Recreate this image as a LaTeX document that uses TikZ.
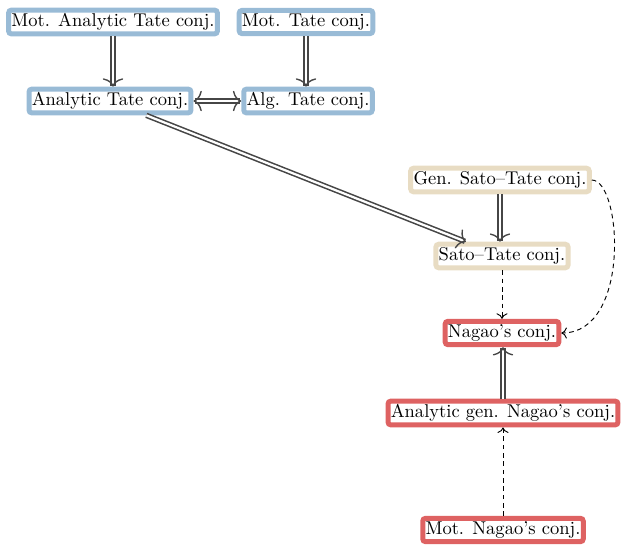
\documentclass[tikz,border=0pt]{standalone}
\usetikzlibrary{arrows.meta,decorations.markings}
\definecolor{cblue}{RGB}{153,187,214}
\definecolor{ctan}{RGB}{232,220,195}
\definecolor{cred}{RGB}{222,98,98}
\definecolor{cline}{RGB}{70,70,70}
\tikzset{
  box/.style={draw=#1, line width=2.7pt, fill=white, rounded corners=1.5pt, inner xsep=1.5pt, inner ysep=1.8pt, text=black},
  tipd/.tip={To[length=4.5pt,width=11pt,line width=0.75pt]},
  dblline/.style={draw=cline, double=white, double distance=1.2pt, line width=0.85pt},
  dbl/.style={dblline, shorten >=0.6pt, postaction={decorate, decoration={markings, mark=at position 1 with {\arrow[cline]{tipd}}}}},
  dbltwo/.style={dblline, shorten >=0.6pt, shorten <=0.6pt, postaction={decorate, decoration={markings, mark=at position 0 with {\arrowreversed[cline]{tipd}}, mark=at position 1 with {\arrow[cline]{tipd}}}}},
  dsh/.style={draw=black, line width=0.5pt, dash pattern=on 2.5pt off 2pt, -{To[length=3pt,width=6pt]}},
}
\begin{document}
\begin{tikzpicture}[x=0.54pt, y=-0.54pt]
\useasboundingbox (0,0) rectangle (624,545);
\node[box=cblue] (mat) at (113,22) {Mot. Analytic Tate conj.};
\node[box=cblue] (mt) at (306,22) {Mot. Tate conj.};
\node[box=cblue] (at) at (110,101) {Analytic Tate conj.};
\node[box=cblue] (alg) at (308,101) {Alg. Tate conj.};
\node[box=ctan] (gst) at (500,180) {Gen. Sato--Tate conj.};
\node[box=ctan] (st) at (502,256) {Sato--Tate conj.};
\node[box=cred] (ng) at (502,333) {Nagao's conj.};
\node[box=cred] (agn) at (503,413) {Analytic gen. Nagao's conj.};
\node[box=cred] (mn) at (503,530) {Mot. Nagao's conj.};
\draw[dbl] (mat) -- (mat |- at.north);
\draw[dbl] (mt) -- (mt |- alg.north);
\draw[dbltwo] (at) -- (alg);
\draw[dbl] (at) -- (st);
\draw[dbl] (gst) -- (gst |- st.north);
\draw[dsh] (st) -- (st |- ng.north);
\draw[dsh] (gst.east) .. controls +(30,0) and +(70,0) .. (ng.east);
\draw[dbl] (agn) -- (agn |- ng.south);
\draw[dsh] (mn) -- (mn |- agn.south);
\end{tikzpicture}
\end{document}
